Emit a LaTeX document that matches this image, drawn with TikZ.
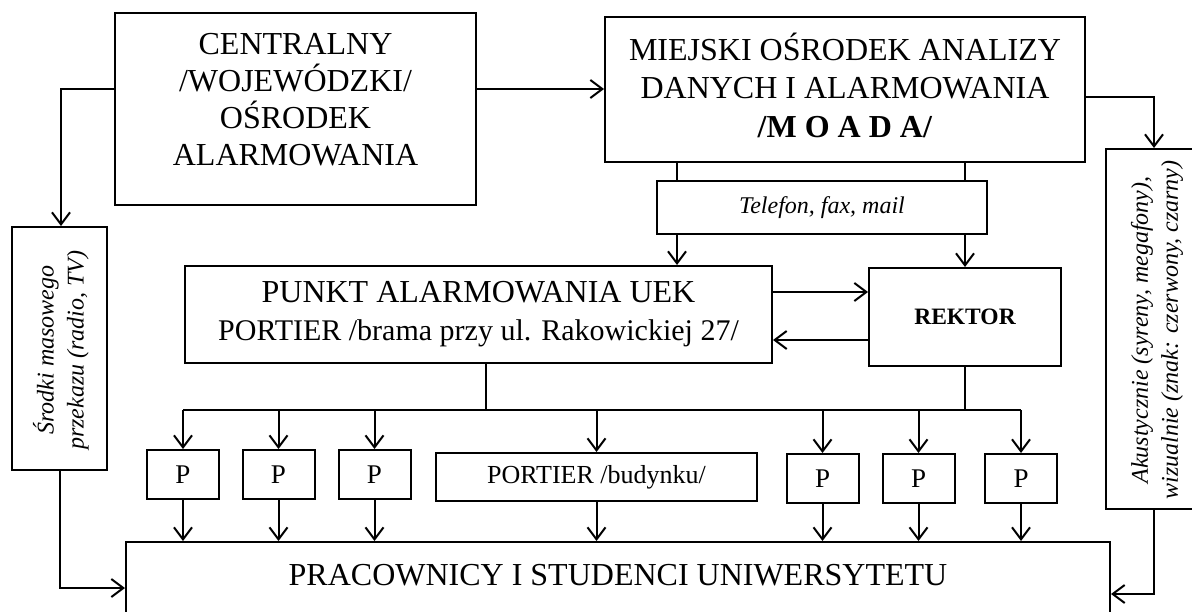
\documentclass[tikz,border=0pt]{standalone}
\usepackage{fontspec}
\setmainfont{Liberation Serif}
\usetikzlibrary{arrows.meta}
\begin{document}
\begin{tikzpicture}[x=0.5pt,y=-0.5pt,
  box/.style={draw, line width=1pt, inner sep=0pt, align=center},
  arr/.style={-{Straight Barb[length=6pt,width=9pt,line width=1pt]}, line width=1pt},
  ln/.style={line width=1pt},
  big/.style={font=\fontsize{16}{18.5}\selectfont},
  pbox/.style={box, minimum width=36pt, minimum height=24.5pt, font=\fontsize{13.5}{15}\selectfont},
  vtext/.style={rotate=90, align=center, font=\itshape\fontsize{12}{15}\selectfont}]
\useasboundingbox (0,0) rectangle (1192,611);

% boxes
\node[box, minimum width=180.5pt, minimum height=96pt] (central) at (295.5,109) {};
\node[big, align=center] (centraltext) at (295.5,100) {CENTRALNY\\/WOJEWÓDZKI/\\OŚRODEK\\ALARMOWANIA};
\node[box, minimum width=240pt, minimum height=72.5pt] (moada) at (845,89.5) {};
\node[align=center, font=\fontsize{16}{19.25}\selectfont] (moadatext) at (845,85)
  {MIEJSKI OŚRODEK ANALIZY\\DANYCH I ALARMOWANIA\\\textbf{/M O A D A/}};
\node[box, minimum width=165pt, minimum height=26.5pt, font=\itshape\fontsize{12}{14}\selectfont] (telefon) at (822,207.5) {Telefon, fax, mail};
\node[box, minimum width=293.5pt, minimum height=48.5pt, font=\fontsize{16}{19}\selectfont] (punkt) at (478.5,314.5)
  {PUNKT ALARMOWANIA UEK\\{\fontsize{15}{19}\selectfont PORTIER /brama przy ul. Rakowickiej 27/}};
\node[box, minimum width=96pt, minimum height=49pt, font=\bfseries\fontsize{11.75}{14}\selectfont] (rektor) at (965,317) {REKTOR};
\node[box, minimum width=47.5pt, minimum height=121.5pt] (srodki) at (59.5,348.5) {};
\node[vtext] (srodkitext) at (61,350) {Środki masowego\\przekazu (radio, TV)};
\node[box, minimum width=51pt, minimum height=180pt] (akust) at (1157,329) {};
\node[vtext] (akusttext) at (1157,330) {Akustycznie (syreny, megafony),\\wizualnie (znak: czerwony, czarny)};

\node[pbox] (p1) at (183,474.5) {P};
\node[pbox] (p2) at (278.5,474.5) {P};
\node[pbox] (p3) at (374.5,474.5) {P};
\node[box, minimum width=160.5pt, minimum height=24pt, font=\fontsize{13}{15}\selectfont] (portier) at (596.5,477) {PORTIER /budynku/};
\node[pbox] (p4) at (822.5,478.5) {P};
\node[pbox] (p5) at (918.5,478.5) {P};
\node[pbox] (p6) at (1021,478.5) {P};

\node[box, anchor=north, minimum width=492pt, text height=21.5pt, text depth=38pt, font=\fontsize{16}{19}\selectfont] (prac) at (618,541)
  {PRACOWNICY I STUDENCI UNIWERSYTETU};

% connectors
\draw[arr] (central.east |- 0,89) -- (moada.west |- 0,89);
\draw[arr] (central.west |- 0,89) -| (srodki.north -| 61,0);
\draw[arr] (moada.east |- 0,97) -| (akust.north -| 1154,0);
\draw[ln] (moada.south -| 677,0) -- (telefon.north -| 677,0);
\draw[ln] (moada.south -| 965,0) -- (telefon.north -| 965,0);
\draw[arr] (telefon.south -| 677,0) -- (punkt.north -| 677,0);
\draw[arr] (telefon.south -| 965,0) -- (rektor.north);
\draw[arr] (punkt.east |- 0,292) -- (rektor.west |- 0,292);
\draw[arr] (rektor.west |- 0,340) -- (punkt.east |- 0,340);
\draw[ln] (punkt.south -| 486,0) -- (486,410);
\draw[ln] (rektor.south) -- (rektor.south |- 0,410);
\draw[ln] (p1.north |- 0,410) -- (p6.north |- 0,410);
\foreach \n in {p1,p2,p3,portier,p4,p5,p6}{
  \draw[arr] (\n.north |- 0,410) -- (\n.north);
  \draw[arr] (\n.south) -- (\n.south |- prac.north);
}
\draw[arr] (srodki.south) |- (prac.west |- 0,588);
\draw[arr] (akust.south -| 1154,0) |- (prac.east |- 0,594);
\end{tikzpicture}
\end{document}
